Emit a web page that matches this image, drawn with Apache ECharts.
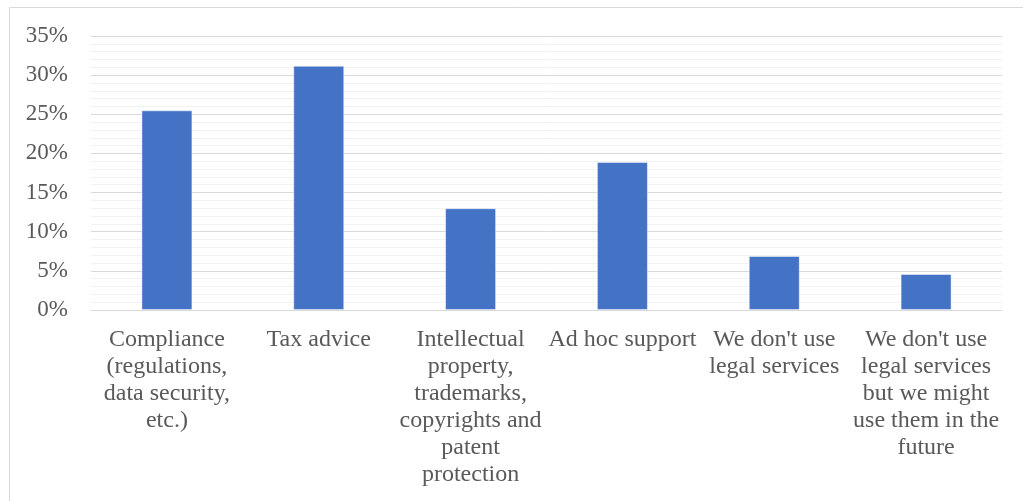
<!DOCTYPE html>
<html>
<head>
<meta charset="utf-8">
<script src="https://cdn.jsdelivr.net/npm/echarts@6/dist/echarts.min.js"></script>
<style>
  html, body { margin: 0; padding: 0; background: #fff; }
  #chart { width: 1023px; height: 501px; }
</style>
</head>
<body>
<div id="chart"></div>
<script>
// Types of legal services used (share of respondents, %)
const categories = [
  'Compliance\n(regulations,\ndata security,\netc.)',
  'Tax advice',
  'Intellectual\nproperty,\ntrademarks,\ncopyrights and\npatent\nprotection',
  'Ad hoc support',
  "We don't use\nlegal services",
  "We don't use\nlegal services\nbut we might\nuse them in the\nfuture"
];
const shares = [25.5, 31.2, 13.0, 18.9, 6.9, 4.6];
const yMin = 0;
const yMax = 35;
const yStep = 5;

const chart = echarts.init(document.getElementById('chart'));
const textColor = '#595959';
const font = '"Liberation Serif", "Times New Roman", serif';

chart.setOption({
  animation: false,
  graphic: [{
    type: 'rect',
    shape: { x: 9.5, y: 7.5, width: 1030, height: 510 },
    style: { fill: 'none', stroke: '#d9d9d9', lineWidth: 1 },
    silent: true
  }],
  grid: { left: 91, right: 21, top: 36, bottom: 191, containLabel: false },
  xAxis: {
    type: 'category',
    data: categories,
    axisLine: { show: true, lineStyle: { color: '#d9d9d9', width: 1 } },
    axisTick: { show: false },
    axisLabel: {
      interval: 0,
      color: textColor,
      fontFamily: font,
      fontSize: 24,
      lineHeight: 27,
      margin: 16,
      align: 'center'
    }
  },
  yAxis: {
    type: 'value',
    min: yMin,
    max: yMax,
    interval: yStep,
    axisLine: { show: false },
    axisTick: { show: false },
    axisLabel: {
      color: textColor,
      fontFamily: font,
      fontSize: 23,
      margin: 23,
      formatter: '{value}%'
    },
    splitLine: { show: true, lineStyle: { color: '#d9d9d9', width: 1 } },
    minorTick: { show: false, splitNumber: 5 },
    minorSplitLine: { show: true, lineStyle: { color: '#f2f2f2', width: 1 } }
  },
  series: [{
    type: 'bar',
    data: shares,
    barWidth: 51,
    itemStyle: {
      color: '#4472c4',
      borderColor: 'rgba(255,255,255,0.45)',
      borderWidth: 1
    }
  }]
});
</script>
</body>
</html>
